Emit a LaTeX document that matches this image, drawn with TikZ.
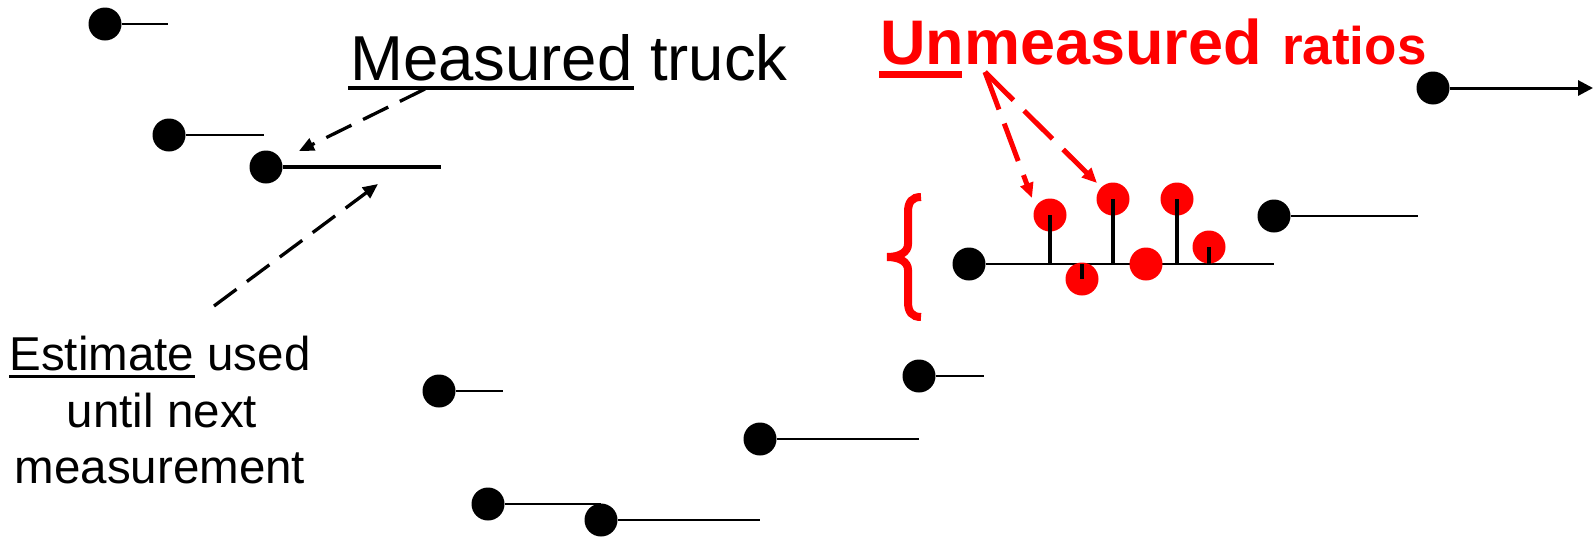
\documentclass[tikz,border=0pt]{standalone}
\usepackage{fontspec}
\setmainfont{Liberation Sans}
\usetikzlibrary{arrows.meta}
\begin{document}
\begin{tikzpicture}[x=1pt,y=-1pt,
  bdot/.style={circle,fill=black,inner sep=0pt,minimum size=33pt},
  rdot/.style={circle,fill=red,inner sep=0pt,minimum size=33pt},
  tline/.style={line width=2pt},
  thline/.style={line width=4.5pt},
  stem/.style={line width=3.5pt},
  bdash/.style={line width=3.3pt,dash pattern=on 28pt off 13pt,-{Triangle[length=15pt,width=13pt]}},
  rdash/.style={red,line width=5pt,dash pattern=on 40pt off 15pt,-{Triangle[length=15pt,width=13pt]}},
  txt/.style={inner sep=0pt,font=\fontsize{63.5}{70}\selectfont},
  stxt/.style={inner sep=0pt,anchor=base,font=\fontsize{47.5}{52}\selectfont}]
\useasboundingbox (0,0) rectangle (1594,536);

% free ends of the horizontal lines
\coordinate (e1) at (168,24);
\coordinate (e2) at (264,135);
\coordinate (e3) at (441,167);
\coordinate (e4) at (503,391);
\coordinate (e5) at (984,376);
\coordinate (e6) at (919,439);
\coordinate (e7) at (601,504);
\coordinate (e8) at (760,520);
\coordinate (e9) at (1274,264);
\coordinate (e10) at (1418,216);
\coordinate (e11) at (1593,88);

\node[bdot] (d1) at (105,24) {};
\node[bdot] (d2) at (169,135) {};
\node[bdot] (d3) at (266,167) {};
\node[bdot] (d4) at (439,391) {};
\node[bdot] (d5) at (919,376) {};
\node[bdot] (d6) at (760,439) {};
\node[bdot] (d7) at (488,504) {};
\node[bdot] (d8) at (601,520) {};
\node[bdot] (d9) at (969,264) {};
\node[bdot] (d10) at (1274,216) {};
\node[bdot] (d11) at (1433,88) {};

\draw[tline] (d1.east) -- (e1);
\draw[tline] (d2.east) -- (e2);
\draw[thline] (d3.east) -- (e3);
\draw[tline] (d4.east) -- (e4);
\draw[tline] (d5.east) -- (e5);
\draw[tline] (d6.east) -- (e6);
\draw[tline] (d7.east) -- (e7);
\draw[tline] (d8.east) -- (e8);
\draw[tline] (d9.east) -- (e9);
\draw[tline] (d10.east) -- (e10);
\draw[line width=3pt,-{Triangle[length=15pt,width=15pt]}] (d11.east) -- (e11);

% red dots
\node[rdot] (r1) at (1050,215) {};
\node[rdot] (r2) at (1082,279) {};
\node[rdot] (r3) at (1113,199) {};
\node[rdot] (r4) at (1146,264) {};
\node[rdot] (r5) at (1177,199) {};
\node[rdot] (r6) at (1209,247) {};
% stems
\draw[stem] (1050,264) -- (r1.center);
\draw[stem] (1082,264) -- (r2.center);
\draw[stem] (1113,264) -- (r3.center);
\draw[stem] (1177,264) -- (r5.center);
\draw[stem] (1209,264) -- (r6.center);

% red brace
\draw[red,line width=8pt] (921,197) .. controls (912,197) and (908,202) .. (908,212) -- (908,244)
  .. controls (908,252) and (900,257) .. (887,257) .. controls (900,257) and (908,262) .. (908,270)
  -- (908,302) .. controls (908,312) and (912,317) .. (921,317);

% texts
\node[txt,anchor=base west] (mt) at (350,80) {Measured truck};
\draw[line width=3.5pt] (348,88) -- (634,88);

\node[txt,anchor=base west,text=red,font=\fontsize{63}{70}\selectfont\bfseries] (um) at (880,64) {Unmeasured};
\node[txt,anchor=base west,text=red,font=\fontsize{53}{60}\selectfont\bfseries] (ra) at (1282,64) {ratios};
\draw[red,line width=7pt] (879,74) -- (962,74);

\node[stxt] (es1) at (160,370) {Estimate used};
\node[stxt] (es2) at (162,427) {until next};
\node[stxt] (es3) at (160,483) {measurement};
\draw[line width=3pt] (9,376) -- (195,376);

% black dashed arrows
\coordinate (a1s) at (425,89);
\coordinate (a1e) at (299,151);
\coordinate (a2s) at (214,306);
\coordinate (a2e) at (378,184);
\draw[bdash] (a1s) -- (a1e);
\draw[bdash] (a2s) -- (a2e);

% red dashed arrows
\coordinate (rs) at (985,72);
\coordinate (ra1) at (1032,198);
\coordinate (ra2) at (1097,183);
\draw[rdash] (rs) -- (ra1);
\draw[rdash] (rs) -- (ra2);
\end{tikzpicture}
\end{document}
